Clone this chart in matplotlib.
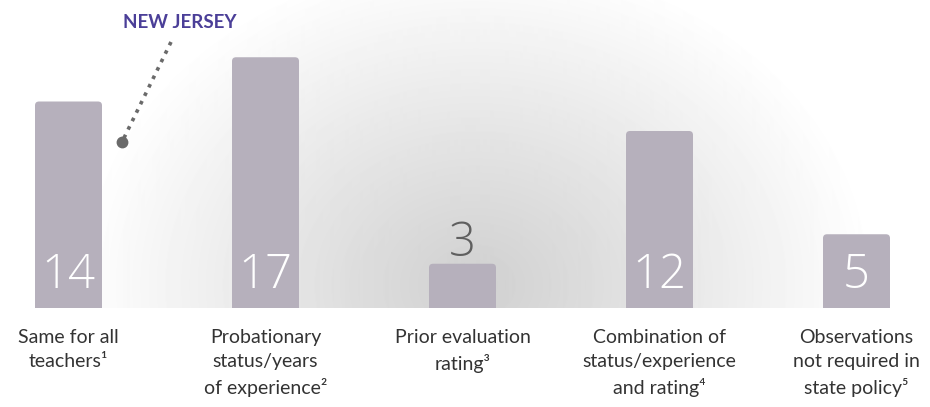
import numpy as np
import matplotlib.pyplot as plt
from matplotlib.patches import FancyBboxPatch

categories = [
    "Same for all\nteachers\u00b9",
    "Probationary\nstatus/years\nof experience\u00b2",
    "Prior evaluation\nrating\u00b3",
    "Combination of\nstatus/experience\nand rating\u2074",
    "Observations\nnot required in\nstate policy\u2075",
]
values = [14, 17, 3, 12, 5]

W, H = 930, 407
BASE = 308          # baseline, pixels from top
PX_PER_UNIT = 14.75
SPACING = 197       # pixels between bar centres
FIRST = 68.5

plt.rcParams['font.family'] = ['Lato', 'DejaVu Sans']

fig = plt.figure(figsize=(W / 100, H / 100), dpi=100)
fig.patch.set_facecolor('white')

# soft grey glow behind the bars
bg = fig.add_axes([0, 1 - BASE / H, 1, BASE / H])
yy, xx = np.mgrid[0:BASE, 0:W]
r = np.sqrt(((xx - 475) / 400.0) ** 2 + ((yy - 285) / 330.0) ** 2)
shade = (208 + (255 - 208) * np.clip(r, 0, 1) ** 1.05) / 255.0
bg.imshow(shade, cmap='gray', vmin=0, vmax=1, extent=(0, W, BASE, 0),
          aspect='auto', interpolation='bilinear')
bg.axis('off')

ax = fig.add_axes([0, 1 - BASE / H, 1, BASE / H])
ax.patch.set_alpha(0)
ax.set_xlim(-FIRST / SPACING, (W - FIRST) / SPACING)
ax.set_ylim(0, BASE / PX_PER_UNIT)
ax.axis('off')

num_font = ['Open Sans', 'DejaVu Sans']
bar_w = 67 / SPACING
radius = 4 / SPACING
aspect = SPACING / PX_PER_UNIT
for i, v in enumerate(values):
    bar = FancyBboxPatch((i - bar_w / 2, -1), bar_w, v + 1,
                         boxstyle=f"round,pad=0,rounding_size={radius}",
                         mutation_aspect=aspect, facecolor='#b6b0bc',
                         edgecolor='none', clip_on=True)
    ax.add_patch(bar)
    if v >= 4:
        ax.text(i, 32 / PX_PER_UNIT, str(v), ha='center', va='center',
                color='white', fontsize=34, fontweight=300, family=num_font)
    else:
        ax.text(i, v + 1.35, str(v), ha='center', va='center',
                color='#5f5f5f', fontsize=34, fontweight=300, family=num_font)

for i, lab in enumerate(categories):
    ax.text(i, -21 / BASE, lab, transform=ax.get_xaxis_transform(),
            ha='center', va='top', fontsize=14, color='#333333',
            linespacing=1.5)

# New Jersey call-out
def fx(px):
    return px / W

def fy(py):
    return 1 - py / H

fig.text(fx(180), fy(23), "NEW JERSEY", ha='center', va='center',
         fontsize=13.5, fontweight='bold', color='#4b3f98')
fig.add_artist(plt.Line2D([fx(171), fx(122)], [fy(42), fy(142)],
                          transform=fig.transFigure, color='#6a6a6a',
                          linewidth=2.6, linestyle=(0, (1, 1.6))))
fig.add_artist(plt.Line2D([fx(122)], [fy(142)], transform=fig.transFigure,
                          marker='o', markersize=7.5, color='#6a6a6a'))

fig.savefig("out.png", dpi=100, facecolor='white')
